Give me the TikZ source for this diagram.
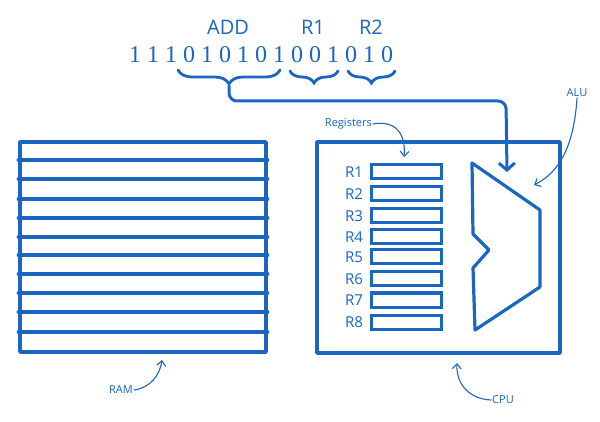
\documentclass[tikz,border=0pt]{standalone}
\usepackage{fontspec}
\setmainfont{Open Sans}
\newfontfamily\digitfont{Liberation Serif}
\usetikzlibrary{arrows.meta,decorations.pathreplacing}
\definecolor{ink}{HTML}{1A66C2}
\tikzset{
  thickline/.style={draw=ink,line width=3.4pt,line join=round,line cap=round},
  thinline/.style={draw=ink,line width=1.1pt,line cap=round},
  lbl/.style={text=ink,font=\fontsize{11}{13}\selectfont,inner sep=1pt},
  reglbl/.style={text=ink,font=\fontsize{15}{18}\selectfont,inner sep=0pt},
  regbox/.style={draw=ink,line width=3pt,minimum width=70pt,minimum height=14pt,inner sep=0pt},
  bit/.style={text=ink,font=\digitfont\fontsize{24}{26}\selectfont,inner sep=0pt},
  head/.style={text=ink,font=\fontsize{20}{24}\selectfont,inner sep=0pt},
  bracestyle/.style={draw=ink,line width=2.8pt,line cap=round,decorate,decoration={brace,mirror,amplitude=14pt}},
  smallarrow/.style={thinline,-{Straight Barb[length=5pt,width=9pt,line width=1.1pt]}},
}
\begin{document}
\begin{tikzpicture}[x=1pt,y=-1pt]
\useasboundingbox[fill=white] (0,0) rectangle (600,422);
% instruction bits
\foreach \d [count=\i] in {1,1,1,0,1,0,1,0,1,0,0,1,0,1,0}{
  \node[bit] (b\i) at ({135+(\i-1)*18},55) {\d};
}
\node[head] (add) at (228,27) {ADD};
\node[head] (r1h) at (313,27) {R1};
\node[head] (r2h) at (371,27) {R2};
% braces
\draw[bracestyle] (178,70) -- (280,70) coordinate[midway] (addmid);
\draw[bracestyle,decoration={amplitude=12pt}] (290,71) -- (338,71);
\draw[bracestyle,decoration={amplitude=12pt}] (348,71) -- (395,71);
\coordinate (addtip) at (229,86);
% RAM
\node[thickline,minimum width=246pt,minimum height=210pt,inner sep=0pt] (ram) at (143,247) {};
\foreach \y in {160,179,199,218,237,255,274,293,312,332}{
  \draw[thickline] (ram.west|-0,\y) -- (ram.east|-0,\y);
}
% CPU
\node[thickline,minimum width=243pt,minimum height=211pt,inner sep=0pt] (cpu) at (438.5,247.5) {};
% registers
\foreach \y [count=\i] in {172,194,216,237,257,279,300,322}{
  \node[reglbl] (rl\i) at (354,\y) {R\i};
  \node[regbox] (rb\i) at (406.5,\y) {};
}
% ALU
\draw[thickline,line width=3.2pt] (472,163) -- (540,210) -- (540,287) -- (475,330) -- (473,268) -- (489,250) -- (473,234) -- cycle;
\coordinate (aluin) at (507,172);
% instruction to ALU
\draw[thickline,line width=3pt,rounded corners=8pt,-{Straight Barb[length=7pt,width=16pt,line width=3pt]}]
  (addtip) |- (506,101) -- (aluin);
% labels
\node[lbl] (alul) at (577,93) {ALU};
\coordinate (alup) at (534,185);
\draw[smallarrow] (alul.south) .. controls (574,145) and (560,172) .. (alup);
\node[lbl,anchor=east] (regl) at (373,124) {Registers};
\coordinate (regp) at (404,157);
\draw[smallarrow] (regl.east) .. controls (395,120) and (406,133) .. (regp);
\node[lbl] (raml) at (121,390) {RAM};
\coordinate (ramp) at (162,360);
\draw[smallarrow] (raml.east) .. controls (150,388) and (160,375) .. (ramp);
\node[lbl] (cpul) at (503,400) {CPU};
\coordinate (cpup) at (457,363);
\draw[smallarrow] (cpul.west) .. controls (470,399) and (456,385) .. (cpup);
\end{tikzpicture}
\end{document}
